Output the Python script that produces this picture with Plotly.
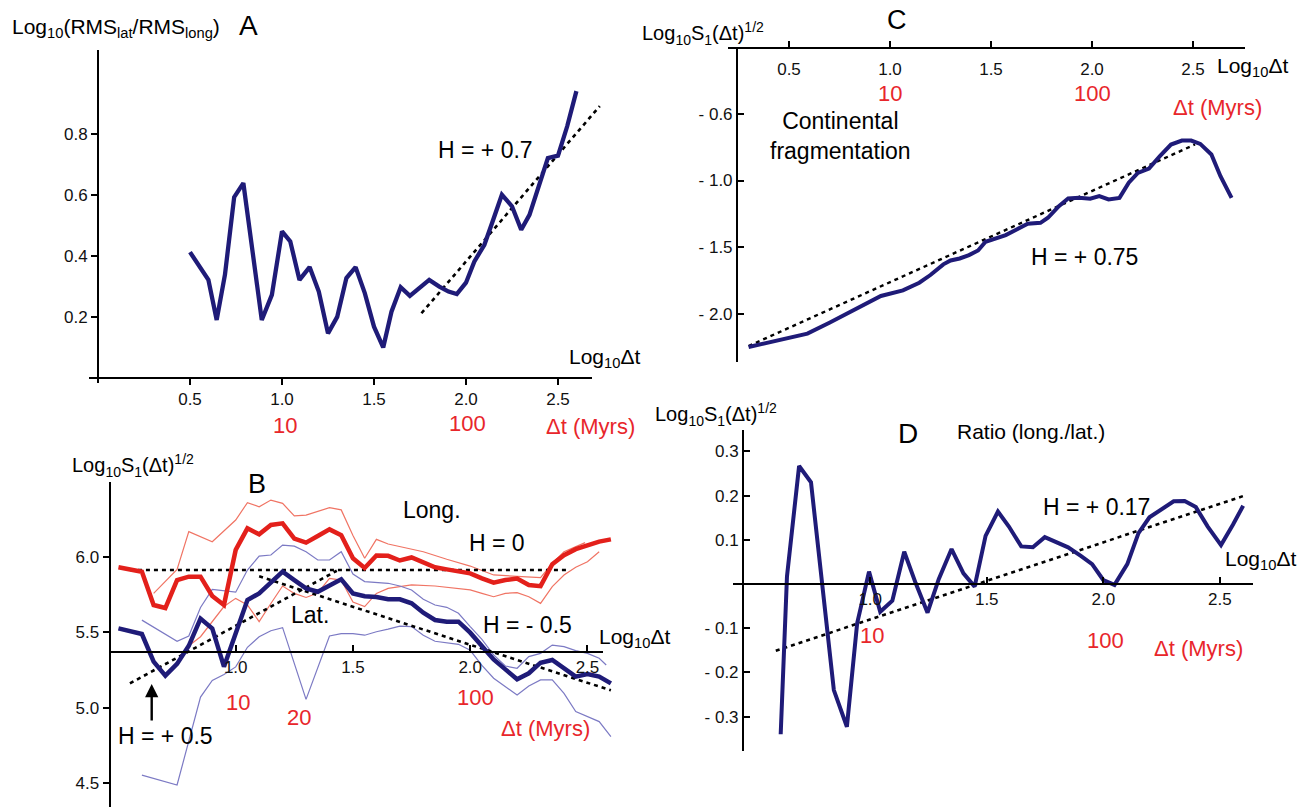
import plotly.graph_objects as go

W, H = 1299, 807
FONT = "Liberation Sans, Arial, sans-serif"
NAVY = "#1f1b78"
RED = "#e3201b"
RED_TXT = "#e8262b"
RED_THIN = "#f07464"
BLUE_THIN = "#7c7ac4"

# ---------------- data ----------------
# Panel A : Log10(RMS_lat/RMS_long) vs Log10 dt
A_x = [0.50, 0.60, 0.645, 0.69, 0.74, 0.79, 0.89, 0.945, 1.0, 1.045, 1.095, 1.15, 1.20, 1.25, 1.30,
       1.35, 1.40, 1.45, 1.50, 1.55, 1.595, 1.645, 1.695, 1.75, 1.80, 1.855, 1.905, 1.95, 2.0, 2.045,
       2.10, 2.145, 2.195, 2.25, 2.30, 2.345, 2.40, 2.445, 2.50, 2.55, 2.60]
A_y = [0.412, 0.321, 0.19, 0.338, 0.592, 0.638, 0.19, 0.272, 0.48, 0.447, 0.321, 0.363, 0.283, 0.146, 0.2,
       0.327, 0.363, 0.278, 0.168, 0.10, 0.217, 0.297, 0.269, 0.297, 0.321, 0.299, 0.283, 0.275, 0.312, 0.381,
       0.436, 0.513, 0.60, 0.562, 0.485, 0.534, 0.638, 0.72, 0.728, 0.824, 0.939]
A_fit_x = [1.758, 2.727]
A_fit_y = [0.212, 0.89]

# Panel B : Log10 S1(dt)^1/2, longitude (red) and latitude (blue)
B_x = [0.50, 0.60, 0.65, 0.70, 0.75, 0.80, 0.85, 0.90, 0.95, 1.00, 1.05, 1.10, 1.15, 1.20, 1.25, 1.30,
       1.35, 1.40, 1.45, 1.50, 1.55, 1.60, 1.65, 1.70, 1.75, 1.80, 1.85, 1.90, 1.95, 2.00, 2.05, 2.10,
       2.15, 2.20, 2.25, 2.30, 2.35, 2.40, 2.45, 2.50, 2.55, 2.60]
long_mean = [5.93, 5.90, 5.68, 5.66, 5.845, 5.868, 5.868, 5.74, 5.68, 6.045, 6.188, 6.148, 6.21, 6.221,
             6.12, 6.093, 6.137, 6.181, 6.143, 5.99, 5.925, 6.008, 6.006, 5.975, 5.995, 5.961, 5.93,
             5.916, 5.901, 5.89, 5.857, 5.828, 5.846, 5.855, 5.812, 5.805, 5.95, 6.01, 6.05, 6.075,
             6.10, 6.115]
lat_mean = [5.525, 5.488, 5.305, 5.212, 5.29, 5.41, 5.59, 5.525, 5.272, 5.49, 5.713, 5.757, 5.834, 5.901,
            5.845, 5.79, 5.768, 5.81, 5.85, 5.757, 5.738, 5.733, 5.718, 5.718, 5.691, 5.629, 5.581,
            5.570, 5.570, 5.497, 5.409, 5.32, 5.254, 5.188, 5.228, 5.298, 5.316, 5.261, 5.206, 5.223,
            5.206, 5.161]
long_up_x = [0.65, 0.75, 0.80, 0.90, 1.00, 1.05, 1.10, 1.15, 1.20, 1.25, 1.30, 1.35, 1.40, 1.45, 1.50,
             1.55, 1.60, 1.65, 1.70, 1.80, 1.90, 2.00, 2.10, 2.20, 2.30, 2.35, 2.40, 2.49]
long_up_y = [5.757, 5.916, 6.166, 6.099, 6.243, 6.358, 6.331, 6.375, 6.353, 6.27, 6.275, 6.30, 6.325,
             6.31, 6.14, 5.99, 6.115, 6.084, 6.066, 6.033, 5.983, 5.938, 5.879, 5.872, 5.861, 5.956,
             6.033, 6.093]
long_lo_x = [0.80, 0.85, 0.95, 1.00, 1.05, 1.10, 1.15, 1.20, 1.25, 1.30, 1.35, 1.40, 1.45, 1.50, 1.55,
             1.60, 1.65, 1.75, 1.85, 1.95, 2.00, 2.05, 2.10, 2.15, 2.20, 2.25, 2.30, 2.35, 2.40, 2.45,
             2.50, 2.55]
long_lo_y = [5.41, 5.47, 5.67, 5.724, 5.68, 5.57, 5.69, 5.806, 5.757, 5.73, 5.76, 5.857, 5.845, 5.70,
             5.67, 5.757, 5.79, 5.813, 5.806, 5.79, 5.78, 5.757, 5.735, 5.757, 5.762, 5.735, 5.691,
             5.802, 5.879, 5.93, 5.967, 6.033]
lat_up_x = [0.60, 0.75, 0.80, 0.85, 0.90, 1.00, 1.05, 1.10, 1.15, 1.20, 1.25, 1.30, 1.35, 1.40, 1.45,
            1.50, 1.55, 1.65, 1.70, 1.75, 1.80, 1.85, 1.90, 1.95, 2.00, 2.05, 2.10, 2.15, 2.20, 2.25,
            2.30, 2.35, 2.40, 2.45, 2.50, 2.55, 2.58]
lat_up_y = [5.58, 5.44, 5.475, 5.664, 5.784, 5.765, 5.912, 6.004, 6.011, 6.077, 6.07, 6.033, 5.978,
            5.978, 6.033, 5.885, 5.835, 5.824, 5.806, 5.78, 5.718, 5.68, 5.665, 5.625, 5.537, 5.453,
            5.35, 5.276, 5.261, 5.338, 5.36, 5.415, 5.404, 5.378, 5.36, 5.327, 5.283]
lat_lo_x = [0.60, 0.75, 0.85, 0.90, 0.95, 1.00, 1.05, 1.10, 1.15, 1.20, 1.30, 1.40, 1.45, 1.50, 1.55,
            1.60, 1.65, 1.70, 1.75, 1.80, 1.85, 1.90, 1.95, 2.00, 2.05, 2.10, 2.15, 2.20, 2.25, 2.30,
            2.35, 2.40, 2.45, 2.50, 2.55, 2.60]
lat_lo_y = [4.554, 4.488, 5.07, 5.18, 5.22, 5.27, 5.40, 5.47, 5.51, 5.53, 5.055, 5.475, 5.49, 5.49,
            5.48, 5.503, 5.52, 5.54, 5.537, 5.48, 5.44, 5.43, 5.42, 5.38, 5.28, 5.195, 5.14, 5.084,
            5.144, 5.184, 5.184, 5.095, 4.974, 4.941, 4.908, 4.808]
B_h0_x = [0.549, 2.418]
B_h0_y = [5.912, 5.912]
B_hneg_x = [1.10, 2.60]
B_hneg_y = [5.87, 5.115]
B_hpos_x = [0.549, 1.431]
B_hpos_y = [5.161, 5.907]

# Panel C : continental fragmentation
C_x = [0.30, 0.591, 0.70, 0.827, 0.955, 1.064, 1.145, 1.20, 1.264, 1.30, 1.345, 1.391, 1.436, 1.473,
       1.527, 1.573, 1.627, 1.682, 1.745, 1.782, 1.836, 1.882, 1.936, 1.991, 2.036, 2.082, 2.136, 2.182,
       2.227, 2.282, 2.336, 2.391, 2.445, 2.491, 2.536, 2.591, 2.636, 2.691]
C_y = [-2.247, -2.147, -2.065, -1.965, -1.865, -1.823, -1.766, -1.708, -1.628, -1.599, -1.584, -1.559,
       -1.524, -1.459, -1.429, -1.409, -1.367, -1.324, -1.317, -1.279, -1.192, -1.135, -1.130, -1.137,
       -1.117, -1.142, -1.130, -1.017, -0.943, -0.910, -0.818, -0.731, -0.701, -0.701, -0.726, -0.805,
       -0.968, -1.130]
C_fit_x = [0.30, 2.51]
C_fit_y = [-2.24, -0.73]

# Panel D : ratio long./lat.
D_x = [0.616, 0.643, 0.695, 0.746, 0.844, 0.90, 0.944, 0.995, 1.043, 1.095, 1.146, 1.195, 1.246, 1.294,
       1.349, 1.40, 1.448, 1.495, 1.548, 1.595, 1.648, 1.698, 1.749, 1.802, 1.849, 1.905, 1.952, 2.0,
       2.048, 2.103, 2.151, 2.198, 2.251, 2.302, 2.349, 2.397, 2.448, 2.505, 2.556, 2.60]
D_y = [-0.340, 0.017, 0.267, 0.230, -0.240, -0.323, -0.089, 0.028, -0.063, -0.038, 0.073, 0.002, -0.065,
       0.011, 0.079, 0.024, -0.006, 0.109, 0.164, 0.130, 0.085, 0.083, 0.106, 0.094, 0.083, 0.063, 0.045,
       0.009, -0.002, 0.045, 0.115, 0.151, 0.168, 0.187, 0.188, 0.174, 0.130, 0.088, 0.134, 0.177]
D_fit_x = [0.595, 2.60]
D_fit_y = [-0.151, 0.199]

# tick labels
A_xticks = [0.5, 1.0, 1.5, 2.0, 2.5]
A_yticks = [0.2, 0.4, 0.6, 0.8]
B_xticks = [1.0, 1.5, 2.0, 2.5]
B_yticks = [4.5, 5.0, 5.5, 6.0]
C_xticks = [0.5, 1.0, 1.5, 2.0, 2.5]
C_yticks = [-2.0, -1.5, -1.0, -0.5]
C_ytext = ["- 2.0", "- 1.5", "- 1.0", "- 0.6"]
D_xticks = [1.0, 1.5, 2.0, 2.5]
D_yticks = [-0.3, -0.2, -0.1, 0.1, 0.2, 0.3]
D_ytext = ["- 0.3", "- 0.2", "- 0.1", "0.1", "0.2", "0.3"]


# ---------------- layout helpers (pixel geometry) ----------------
def xrange_(vref, pref, s, a, b):
    return [vref + (a - pref) / s, vref + (b - pref) / s]


def yrange_(vref, pref, s, top, bot):
    return [vref - (bot - pref) / s, vref + (pref - top) / s]


def dom_x(a, b):
    return [a / W, b / W]


def dom_y(top, bot):
    return [1 - bot / H, 1 - top / H]


# panel scales: (value, pixel, px per unit)
PAN = {
    "A": dict(xs=(0.0, 98, 184.0), ys=(0.0, 378, 305.5), area=(60, 640, 40, 400)),
    "B": dict(xs=(1.0, 235.7, 234.5), ys=(6.0, 556.7, 151.0), area=(100, 645, 470, 807)),
    "C": dict(xs=(0.5, 789, 202.0), ys=(0.0, 47, 133.5), area=(700, 1295, 30, 380)),
    "D": dict(xs=(1.0, 870.2, 233.1), ys=(0.0, 584, 442.0), area=(700, 1295, 420, 790)),
}

fig = go.Figure()

hidden = dict(showline=False, showgrid=False, zeroline=False, showticklabels=False, ticks="")
layout = dict(width=W, height=H, margin=dict(l=0, r=0, t=0, b=0), paper_bgcolor="white",
              plot_bgcolor="rgba(0,0,0,0)", showlegend=False)

axis_names = {"A": ("x", "y", "xaxis", "yaxis"), "B": ("x2", "y2", "xaxis2", "yaxis2"),
              "C": ("x3", "y3", "xaxis3", "yaxis3"), "D": ("x4", "y4", "xaxis4", "yaxis4")}
for k, p in PAN.items():
    xa, ya, xn, yn = axis_names[k]
    l, r, t, b = p["area"]
    layout[xn] = dict(domain=dom_x(l, r), range=xrange_(*p["xs"], l, r), anchor=ya, **hidden)
    layout[yn] = dict(domain=dom_y(t, b), range=yrange_(*p["ys"], t, b), anchor=xa, **hidden)

tickfont = dict(family=FONT, size=17, color="#111")
common = dict(showline=True, linecolor="black", linewidth=2, showgrid=False, zeroline=False,
              tickcolor="black", tickwidth=2, ticklen=6, tickfont=tickfont, anchor="free")


def frame_x(name, k, a, b, ypix, vals, texts=None, ticks="outside", standoff=None):
    p = PAN[k]
    d = dict(domain=dom_x(a, b), range=xrange_(*p["xs"], a, b), position=1 - ypix / H,
             side="bottom", ticks=ticks, tickvals=vals,
             ticktext=texts or [f"{v:.1f}" for v in vals], **common)
    if standoff is not None:
        d["ticklabelstandoff"] = standoff
    layout[name] = d


def frame_y(name, k, top, bot, xpix, vals, texts=None, ticks="outside"):
    p = PAN[k]
    layout[name] = dict(domain=dom_y(top, bot), range=yrange_(*p["ys"], top, bot), position=xpix / W,
                        side="left", ticks=ticks, tickvals=vals,
                        ticktext=texts or [f"{v:.1f}" for v in vals], **common)


frame_x("xaxis5", "A", 89, 592, 378, A_xticks)
frame_y("yaxis5", "A", 50, 383, 98, A_yticks)
frame_x("xaxis6", "B", 109.6, 602.5, 652, B_xticks, ticks="inside")
frame_y("yaxis6", "B", 482, 807, 109.6, B_yticks)
# C: axis line at the top of the panel, tick marks pointing up, labels below the line
frame_x("xaxis7", "C", 728, 1245, 48, C_xticks, ticks="inside", standoff=6)
frame_y("yaxis7", "C", 47, 362, 737, C_yticks, C_ytext, ticks="inside")
frame_x("xaxis8", "D", 732.6, 1253, 584, D_xticks, ticks="inside")
frame_y("yaxis8", "D", 430, 750.7, 743, D_yticks, D_ytext, ticks="inside")

# empty traces register the axis-frame subplots so that their axes get drawn
for fx, fy in (("x5", "y5"), ("x6", "y6"), ("x7", "y7"), ("x8", "y8")):
    fig.add_trace(go.Scatter(x=[], y=[], xaxis=fx, yaxis=fy, mode="lines", hoverinfo="skip"))

DOT = "4px,4px"


def line(x, y, xa, ya, color, width, dash="solid"):
    fig.add_trace(go.Scatter(x=x, y=y, xaxis=xa, yaxis=ya, mode="lines",
                             line=dict(color=color, width=width, dash=dash), hoverinfo="skip"))


# Panel A
line(A_fit_x, A_fit_y, "x", "y", "black", 2.6, DOT)
line(A_x, A_y, "x", "y", NAVY, 4.3)
# Panel B
line(long_up_x, long_up_y, "x2", "y2", RED_THIN, 1.2)
line(long_lo_x, long_lo_y, "x2", "y2", RED_THIN, 1.2)
line(lat_up_x, lat_up_y, "x2", "y2", BLUE_THIN, 1.2)
line(lat_lo_x, lat_lo_y, "x2", "y2", BLUE_THIN, 1.2)
line(B_h0_x, B_h0_y, "x2", "y2", "black", 2.6, DOT)
line(B_hneg_x, B_hneg_y, "x2", "y2", "black", 2.6, DOT)
line(B_hpos_x, B_hpos_y, "x2", "y2", "black", 2.6, DOT)
line(B_x, long_mean, "x2", "y2", RED, 4.5)
line(B_x, lat_mean, "x2", "y2", NAVY, 4.5)
# Panel C
line(C_fit_x, C_fit_y, "x3", "y3", "black", 2.4, DOT)
line(C_x, C_y, "x3", "y3", NAVY, 4)
# Panel D
line(D_fit_x, D_fit_y, "x4", "y4", "black", 2.6, DOT)
line(D_x, D_y, "x4", "y4", NAVY, 4)


def ann(text, px, py, size=23, color="black", xanchor="center", yanchor="middle"):
    return dict(text=text, x=px / W, y=1 - py / H, xref="paper", yref="paper", showarrow=False,
                font=dict(family=FONT, size=size, color=color), xanchor=xanchor, yanchor=yanchor)


LOGDT = "Log<sub>10</sub>Δt"
S1 = "Log<sub>10</sub>S<sub>1</sub>(Δt)<sup>1/2</sup>"
RS = 22  # red label size
anns = [
    # A
    ann("Log<sub>10</sub>(RMS<sub>lat</sub>/RMS<sub>long</sub>)", 116, 28, 21),
    ann("A", 248, 25, 28),
    ann("H = + 0.7", 485, 150),
    ann(LOGDT, 567, 358, 21, xanchor="left"),
    ann("10", 285, 425, RS, RED_TXT),
    ann("100", 467, 423, RS, RED_TXT),
    ann("Δt (Myrs)", 590, 427, RS, RED_TXT),
    # B
    ann(S1, 133, 465, 20),
    ann("B", 257, 484, 27),
    ann("Long.", 432, 510),
    ann("H = 0", 497, 543),
    ann("Lat.", 310, 615),
    ann("H = - 0.5", 527, 625),
    ann(LOGDT, 597, 638, 21, xanchor="left"),
    ann("10", 238, 702, RS, RED_TXT),
    ann("20", 299, 717, RS, RED_TXT),
    ann("100", 475, 697, RS, RED_TXT),
    ann("Δt (Myrs)", 545, 728, RS, RED_TXT),
    ann("H = + 0.5", 165, 736),
    # C
    ann(S1, 703, 33, 20),
    ann("C", 897, 20, 27),
    ann(LOGDT, 1215, 67, 21, xanchor="left"),
    ann("10", 890, 94, RS, RED_TXT),
    ann("100", 1092, 94, RS, RED_TXT),
    ann("Δt (Myrs)", 1217, 108, RS, RED_TXT),
    ann("Continental<br>fragmentation", 840, 136),
    ann("H = + 0.75", 1084, 257),
    # D
    ann(S1, 716, 414, 20),
    ann("D", 908, 433, 28),
    ann("Ratio (long./lat.)", 955, 432, 21, xanchor="left"),
    ann("H = + 0.17", 1096, 507),
    ann(LOGDT, 1223, 560, 21, xanchor="left"),
    ann("10", 872, 635, RS, RED_TXT),
    ann("100", 1105, 640, RS, RED_TXT),
    ann("Δt (Myrs)", 1198, 648, RS, RED_TXT),
]
# arrow pointing to the H=+0.5 line in panel B
anns.append(dict(text="", x=151.7 / W, y=1 - 684 / H, xref="paper", yref="paper", showarrow=True,
                 ax=0, ay=38, arrowhead=2, arrowsize=1.1, arrowwidth=2.4, arrowcolor="black"))
layout["annotations"] = anns

fig.update_layout(**layout)
fig.write_html("out.html")
